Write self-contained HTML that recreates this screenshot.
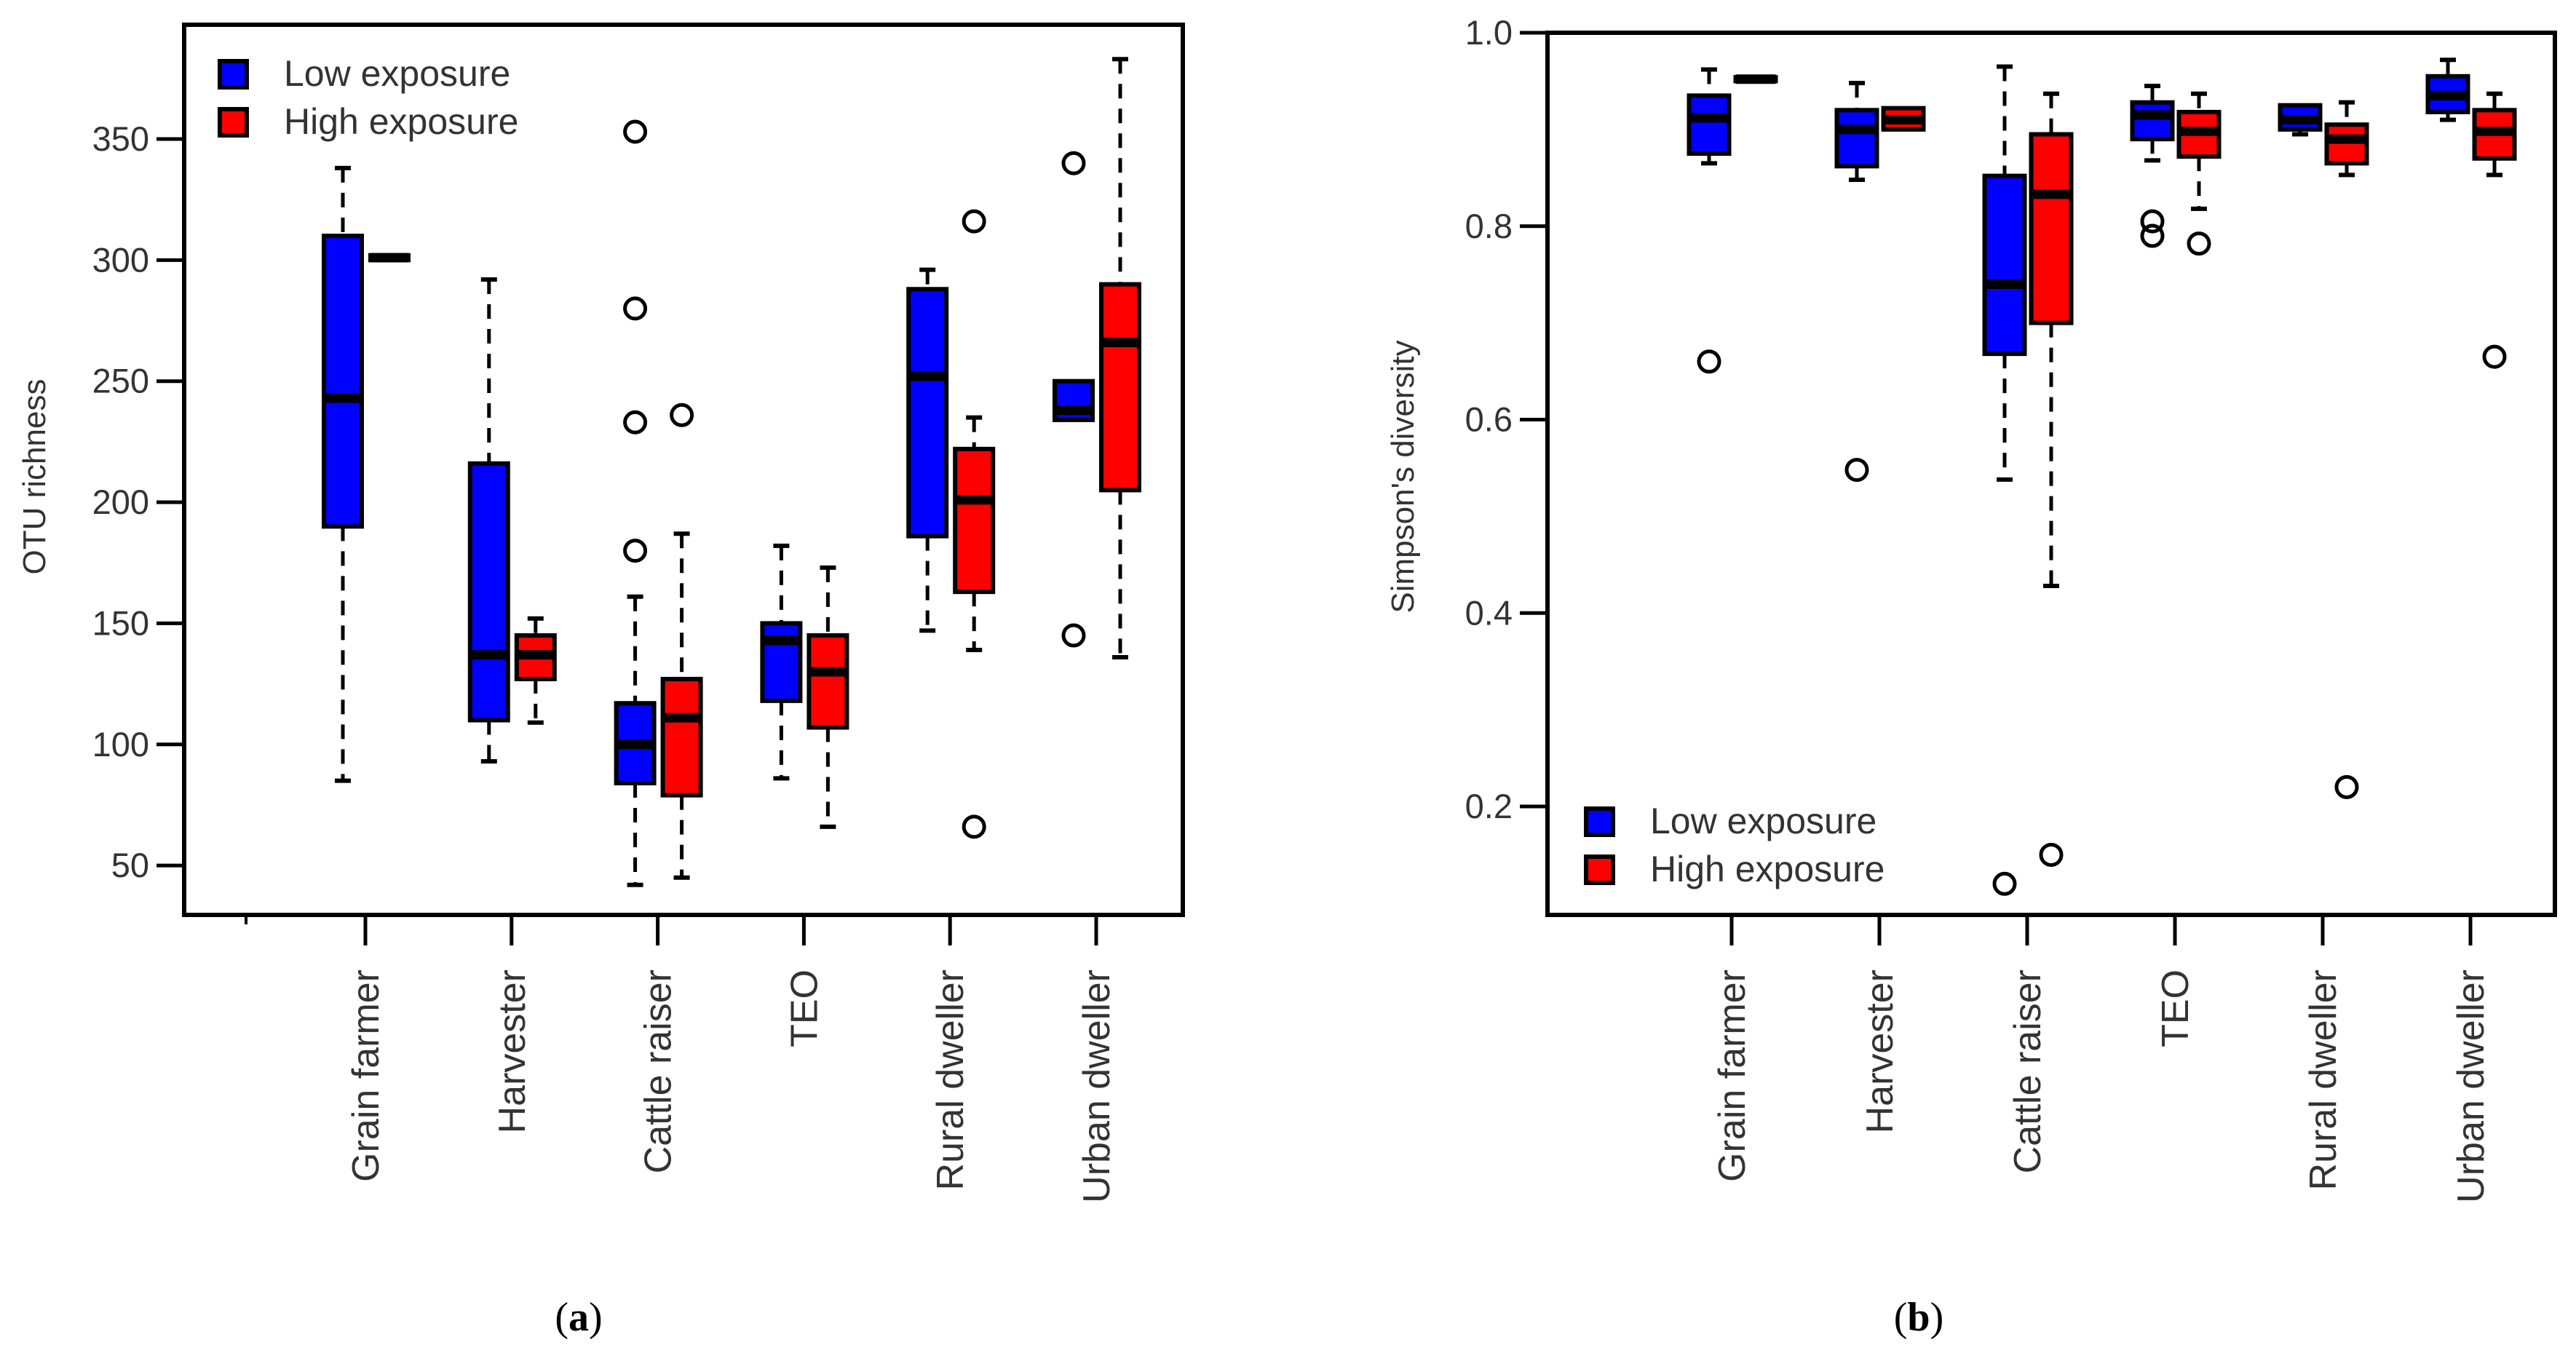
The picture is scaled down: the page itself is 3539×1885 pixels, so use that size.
<!DOCTYPE html>
<html><head><meta charset="utf-8"><style>
html,body{margin:0;padding:0;background:#fff;}
svg{display:block;}
text{font-family:"Liberation Sans",sans-serif;fill:#333;}
</style></head>
<body>
<svg id="fig" width="3539" height="1885" viewBox="0 0 3539 1885" xmlns="http://www.w3.org/2000/svg"></svg>
<script>
const categories = ["Grain farmer","Harvester","Cattle raiser","TEO","Rural dweller","Urban dweller"];
// panel a: [lowWhisker, q1, median, q3, highWhisker]
const otuLow = [[85,190,243,310,338],[93,110,137,216,292],[42,84,100,117,161],[86,118,143,150,182],[147,186,252,288,296],[234,234,238,250,250]];
const otuHigh = [[301,300,301,302,301],[109,127,137,145,152],[45,79,111,127,187],[66,107,130,145,173],[139,163,201,222,235],[136,205,266,290,383]];
const otuLowOut = [[],[],[353,280,233,180],[],[],[340,145]];
const otuHighOut = [[],[],[236],[],[316,66],[]];
const otuTicks = [50,100,150,200,250,300,350];
// panel b
const simLow = [[0.865,0.875,0.912,0.935,0.962],[0.848,0.862,0.90,0.92,0.948],[0.538,0.668,0.74,0.852,0.965],[0.868,0.89,0.915,0.928,0.945],[0.895,0.90,0.91,0.925,0.925],[0.91,0.918,0.935,0.955,0.972]];
const simHigh = [[0.952,0.950,0.952,0.954,0.952],[0.90,0.90,0.91,0.922,0.922],[0.428,0.70,0.833,0.895,0.937],[0.818,0.872,0.898,0.918,0.937],[0.853,0.865,0.89,0.905,0.928],[0.853,0.87,0.898,0.92,0.937]];
const simLowOut = [[0.66],[0.548],[0.12],[0.805,0.79],[],[]];
const simHighOut = [[],[],[0.15],[0.782],[0.22],[0.665]];
const simTicks = [0.2,0.4,0.6,0.8,1.0];
const simTickLabels = ["0.2","0.4","0.6","0.8","1.0"];

const NS="http://www.w3.org/2000/svg";
const svg=document.getElementById('fig');
function mk(tag,attrs,parent){const e=document.createElementNS(NS,tag);for(const k in attrs)e.setAttribute(k,attrs[k]);(parent||svg).appendChild(e);return e;}

function panel(cfg){
  const g=mk('g',{});
  
  
  const y=cfg.y, x=i=>cfg.x0+i*cfg.dx;
  const fr=mk('rect',{x:cfg.L,y:cfg.T,width:cfg.R-cfg.L,height:cfg.B-cfg.T,fill:'none',stroke:'#000','stroke-width':6},g);
  
  
  cfg.ticks.forEach((v,i)=>{
    const tk=mk('line',{x1:cfg.L-38,x2:cfg.L,y1:y(v),y2:y(v),stroke:'#000','stroke-width':5},g);
    
    
    const t=mk('text',{x:cfg.L-48,y:y(v)+16,'text-anchor':'end','font-size':47},g);
    t.textContent=cfg.tickLabels[i];
    
    
  });
  const yt=mk('text',{x:0,y:0,'text-anchor':'middle','font-size':44,transform:`translate(${cfg.titleX},655) rotate(-90)`},g);
  yt.textContent=cfg.title;
  
  
  categories.forEach((c,i)=>{
    const tk=mk('line',{x1:x(i),x2:x(i),y1:cfg.B,y2:cfg.B+42,stroke:'#000','stroke-width':5},g);
    
    
    const t=mk('text',{x:0,y:0,'text-anchor':'end','font-size':52,transform:`translate(${x(i)+18},1332) rotate(-90)`},g);
    t.textContent=c;
    
    
  });
  function box(s,cx,col,outs,nm){
    const bg=mk('g',{},g);
    
    
    const w=cfg.bw, [lo,q1,md,q3,hi]=s;
    if(hi>q3){mk('line',{x1:cx,x2:cx,y1:y(hi),y2:y(q3),stroke:'#000','stroke-width':5,'stroke-dasharray':'20 14'},bg);
      mk('line',{x1:cx-11,x2:cx+11,y1:y(hi),y2:y(hi),stroke:'#000','stroke-width':6},bg);}
    if(lo<q1){mk('line',{x1:cx,x2:cx,y1:y(q1),y2:y(lo),stroke:'#000','stroke-width':5,'stroke-dasharray':'20 14'},bg);
      mk('line',{x1:cx-11,x2:cx+11,y1:y(lo),y2:y(lo),stroke:'#000','stroke-width':6},bg);}
    mk('rect',{x:cx-w/2,y:y(q3),width:w,height:Math.max(y(q1)-y(q3),1),fill:col,stroke:'#000','stroke-width':6},bg);
    mk('line',{x1:cx-w/2,x2:cx+w/2,y1:y(md),y2:y(md),stroke:'#000','stroke-width':13},bg);
    outs.forEach(o=>{const c=mk('circle',{cx:cx,cy:y(o),r:14,fill:'none',stroke:'#000','stroke-width':5},bg);
      
      });
  }
  categories.forEach((c,i)=>{
    box(cfg.low[i],x(i)-31,'#0000ff',cfg.lowOut[i],'box-low-'+i);
    box(cfg.high[i],x(i)+33,'#ff0000',cfg.highOut[i],'box-high-'+i);
  });
  const lg=mk('g',{},g);
  
  
  [['Low exposure','#0000ff'],['High exposure','#ff0000']].forEach((e,k)=>{
    const yy=cfg.legY+k*66;
    const r=mk('rect',{x:cfg.legX,y:yy,width:37,height:36,fill:e[1],stroke:'#000','stroke-width':6},lg);
    
    
    const t=mk('text',{x:cfg.legX+88,y:yy+34,'font-size':50},lg);
    t.textContent=e[0];
    
    
  });
}
panel({name:'panel-a',L:253,R:1625,T:34,B:1257,y:v=>191+(350-v)*3.327,x0:502,dx:200.8,bw:52,
  ticks:otuTicks,tickLabels:otuTicks.map(String),title:'OTU richness',titleX:62,
  low:otuLow,high:otuHigh,lowOut:otuLowOut,highOut:otuHighOut,legX:302,legY:84});
panel({name:'panel-b',L:2126,R:3510,T:45,B:1257,y:v=>45+(1-v)*1328.75,x0:2379,dx:203,bw:55,
  ticks:simTicks,tickLabels:simTickLabels,title:"Simpson's diversity",titleX:1942,
  low:simLow,high:simHigh,lowOut:simLowOut,highOut:simHighOut,legX:2179,legY:1111});
const st=mk('line',{x1:338,x2:338,y1:1257,y2:1270,stroke:'#000','stroke-width':4});


[['(a)',795],['(b)',2636]].forEach(c=>{
  const t=mk('text',{x:c[1],y:1828,'text-anchor':'middle','font-size':56,style:'font-family:"Liberation Serif",serif;fill:#000'});
  t.innerHTML='(<tspan font-weight="bold">'+c[0][1]+'</tspan>)';
  
  
});
</script>
</body></html>
